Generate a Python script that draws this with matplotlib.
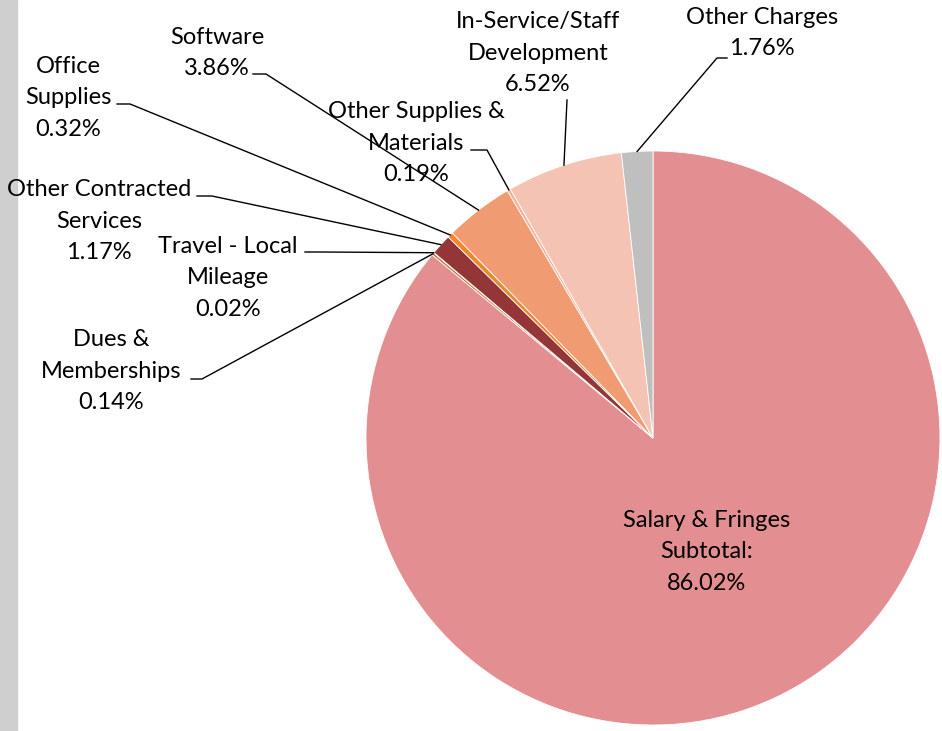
import numpy as np
import matplotlib
matplotlib.use('Agg')
import matplotlib.pyplot as plt
from matplotlib.patches import Rectangle

# Данные
categories = ['Salary & Fringes\nSubtotal:', 'Dues &\nMemberships', 'Travel - Local\nMileage',
              'Other Contracted\nServices', 'Office\nSupplies', 'Software',
              'Other Supplies &\nMaterials', 'In-Service/Staff\nDevelopment', 'Other Charges']
shares = [86.02, 0.14, 0.02, 1.17, 0.32, 3.86, 0.19, 6.52, 1.76]
colors = ['#E38F91', '#C8743A', '#E07A30', '#943537', '#F0862E', '#F09B71',
          '#F2B29C', '#F4C3B3', '#BFBFBF']

W, H = 942, 731
plt.rcParams['font.family'] = ['Lato', 'DejaVu Sans']

fig = plt.figure(figsize=(W / 100, H / 100), dpi=100)
ax = fig.add_axes([0, 0, 1, 1])

# серый край слева (фон скриншота)
ax.add_patch(Rectangle((0, 0), 17, H, color='#cfcfcf', zorder=0))

cx, cy, r = 653, H - 438, 287
wedges, _ = ax.pie(shares, colors=colors, startangle=90, counterclock=False,
                   center=(cx, cy), radius=r,
                   wedgeprops=dict(edgecolor='white', linewidth=0.6))
ax.set_xlim(0, W)
ax.set_ylim(0, H)
ax.set_aspect('equal')
ax.axis('off')

# позиции подписей (пиксели сверху)
label_pos = [(707, 552), (111, 371), (228, 278), (99, 221), (68, 98),
             (217, 53), (416, 143), (538, 53), (762, 33)]
# начало выноски и излом
leaders = [None, [(191, 379), (202, 379)], [(305, 252), (320, 252)],
           [(197, 196), (212, 196)], [(117, 104), (130, 104)],
           [(253, 74), (266, 74)], [(471, 150), (487, 150)],
           [(567, 100), (567, 100)], [(727, 58), (717, 58)]]

for w, name, v, (lx, ly), ld in zip(wedges, categories, shares, label_pos, leaders):
    ax.text(lx, H - ly, f'{name}\n{v:.2f}%', ha='center', va='center',
            fontsize=17, linespacing=1.64, color='black', zorder=5)
    if ld is None:
        continue
    ang = np.deg2rad((w.theta1 + w.theta2) / 2)
    ax_, ay_ = cx + r * np.cos(ang), cy + r * np.sin(ang)
    xs = [ld[0][0], ld[1][0], ax_]
    ys = [H - ld[0][1], H - ld[1][1], ay_]
    ax.plot(xs, ys, color='black', linewidth=1.0, zorder=4)

plt.savefig('out.png', dpi=100)
